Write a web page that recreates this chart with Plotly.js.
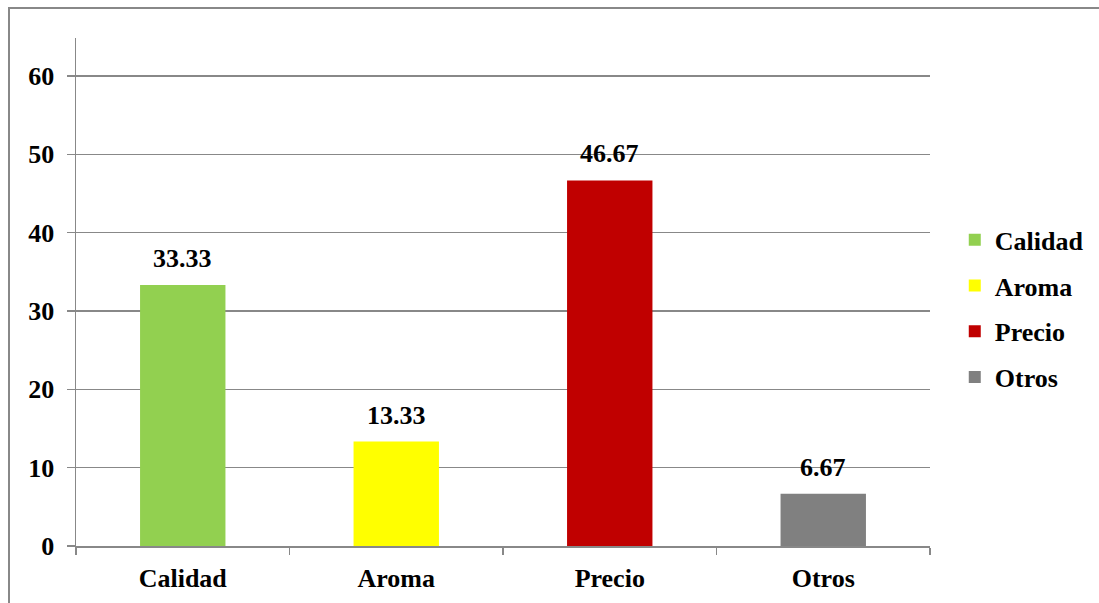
<!DOCTYPE html>
<html>
<head>
<meta charset="utf-8">
<script src="https://cdn.plot.ly/plotly-3.0.1.min.js"></script>
<style>
  html, body { margin: 0; padding: 0; background: #fff; }
  #wrap { position: relative; width: 1099px; height: 603px; overflow: hidden; }
  #chart { position: absolute; left: 0; top: 0; width: 1099px; height: 603px; }
  #frame { position: absolute; left: 8px; top: 7px; width: 1200px; height: 700px;
           border-left: 2px solid #888; border-top: 2px solid #888; pointer-events: none; }
</style>
</head>
<body>
<div id="wrap"><div id="chart"></div><div id="frame"></div></div>
<script>
const categories = ["Calidad", "Aroma", "Precio", "Otros"];
const values = [33.33, 13.33, 46.67, 6.67];
const labels = ["33.33", "13.33", "46.67", "6.67"];
const colors = ["#92D050", "#FFFF00", "#C00000", "#808080"];
const yTicks = [0, 10, 20, 30, 40, 50, 60];

const FAMILY = "Liberation Serif, Times New Roman, serif";
const mkFont = () => ({ family: FAMILY, size: 26, color: "#000" });
const gridColor = "#888888";

const traces = categories.map((c, i) => ({
  type: "bar",
  name: "<b>" + c + "</b>",
  x: [c],
  y: [values[i]],
  marker: { color: colors[i], line: { width: 0 } },
  width: 0.4,
  legendgroup: c,
  hoverinfo: "none"
}));

const annotations = categories.map((c, i) => ({
  x: c, y: values[i], xref: "x", yref: "y",
  text: "<b>" + labels[i] + "</b>",
  showarrow: false, yanchor: "bottom", yshift: 10,
  font: mkFont()
}));

const layout = {
  width: 1099, height: 603,
  margin: { l: 76, r: 169, t: 38, b: 57, autoexpand: false },
  paper_bgcolor: "#fff", plot_bgcolor: "#fff",
  barmode: "overlay",
  showlegend: true,
  legend: {
    x: 1.029, xanchor: "left",
    y: 0.467, yanchor: "middle",
    font: mkFont(), tracegroupgap: 9,
    itemwidth: 30, bgcolor: "rgba(0,0,0,0)"
  },
  font: mkFont(),
  xaxis: {
    type: "category", categoryorder: "array", categoryarray: categories,
    range: [-0.5, 3.5], automargin: false,
    showline: true, linecolor: gridColor, linewidth: 1.5,
    ticks: "outside", tickson: "boundaries", ticklen: 7, tickcolor: gridColor, tickwidth: 1.5,
    showgrid: false, zeroline: false,
    tickfont: mkFont(), ticklabelstandoff: 8,
    ticktext: categories.map(c => "<b>" + c + "</b>"), tickvals: categories, tickmode: "array"
  },
  yaxis: {
    range: [0, 64.85], automargin: false,
    tickmode: "array", tickvals: yTicks, ticktext: yTicks.map(v => "<b>" + v + "</b>"),
    showline: true, linecolor: gridColor, linewidth: 1.5,
    ticks: "outside", ticklen: 8, tickcolor: gridColor, tickwidth: 1.5,
    showgrid: true, gridcolor: gridColor, gridwidth: 1.5,
    zeroline: false, tickfont: mkFont(), ticklabelstandoff: 7
  },
  annotations: annotations
};

Plotly.newPlot("chart", traces, layout, { staticPlot: true, displayModeBar: false });
</script>
</body>
</html>
